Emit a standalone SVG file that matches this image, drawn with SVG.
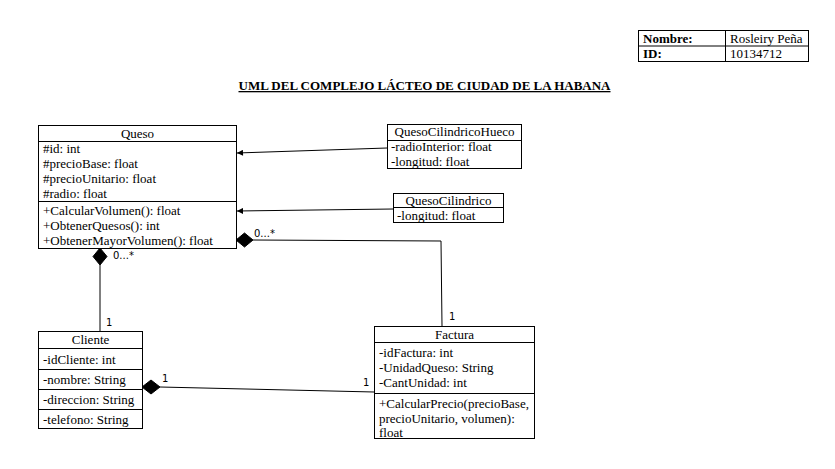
<svg xmlns="http://www.w3.org/2000/svg" width="835" height="469" viewBox="0 0 835 469">
<defs>
<style>
.box{fill:#fff;stroke:#000;stroke-width:1}
.ln{stroke:#000;stroke-width:1;fill:none}
.t{font-family:"Liberation Serif","Times New Roman",serif;font-size:13px;fill:#000}
.c{text-anchor:middle}
.b{font-weight:bold}
.lbl{font-family:"DejaVu Sans","Liberation Sans",sans-serif;font-size:10px;fill:#000}
.conn{stroke:#000;stroke-width:1;fill:none}
.dia{fill:#000;stroke:#000}
</style>
<marker id="arr" viewBox="0 0 10 10" refX="10" refY="5" markerWidth="8" markerHeight="6" orient="auto" markerUnits="userSpaceOnUse">
<path d="M0,0 L10,5 L0,10 z" fill="#000"/>
</marker>
</defs>
<rect width="835" height="469" fill="#fff"/>

<g id="header">
<rect class="box" x="638.5" y="30.5" width="170" height="31"/>
<line class="ln" x1="638.5" y1="46" x2="808.5" y2="46"/>
<line class="ln" x1="725.5" y1="30.5" x2="725.5" y2="61.5"/>
<text class="t b" x="643" y="42.5">Nombre:</text>
<text class="t" x="730" y="42.5">Rosleiry Peña</text>
<text class="t b" x="643" y="58">ID:</text>
<text class="t" x="730" y="58">10134712</text>
</g>

<g id="title">
<text class="t b" x="424.5" y="90" text-anchor="middle" style="text-decoration:underline">UML DEL COMPLEJO LÁCTEO DE CIUDAD DE LA HABANA</text>
</g>

<g id="connectors">
<line class="conn" x1="387" y1="148" x2="237" y2="153" marker-end="url(#arr)"/>
<line class="conn" x1="393" y1="209" x2="237" y2="211" marker-end="url(#arr)"/>
<polyline class="conn" points="253,240 441,241 442,326"/>
<path class="dia" d="M236,240 L244.5,233 L253,240 L244.5,247 z"/>
<line class="conn" x1="100" y1="265" x2="100" y2="331"/>
<path class="dia" d="M100,248 L107,256.5 L100,265 L93,256.5 z"/>
<line class="conn" x1="160" y1="387" x2="374" y2="392"/>
<path class="dia" d="M142,387 L151,380 L160,387 L151,394 z"/>
<text class="lbl" x="254" y="237">0...*</text>
<text class="lbl" x="449" y="320">1</text>
<text class="lbl" x="113" y="259">0...*</text>
<text class="lbl" x="106" y="326">1</text>
<text class="lbl" x="162" y="382">1</text>
<text class="lbl" x="363" y="386">1</text>
</g>

<g id="Queso">
<rect class="box" x="38.5" y="125.5" width="198" height="123"/>
<line class="ln" x1="38.5" y1="141.5" x2="236.5" y2="141.5"/>
<line class="ln" x1="38.5" y1="201.5" x2="236.5" y2="201.5"/>
<text class="t c" x="137.5" y="137.5">Queso</text>
<text class="t" x="43" y="152.5">#id: int</text>
<text class="t" x="43" y="167.5">#precioBase: float</text>
<text class="t" x="43" y="182.5">#precioUnitario: float</text>
<text class="t" x="43" y="197.5">#radio: float</text>
<text class="t" x="43" y="214.5">+CalcularVolumen(): float</text>
<text class="t" x="43" y="229.5">+ObtenerQuesos(): int</text>
<text class="t" x="43" y="244.5">+ObtenerMayorVolumen(): float</text>
</g>

<g id="QuesoCilindricoHueco">
<rect class="box" x="387.5" y="124.5" width="134" height="44"/>
<line class="ln" x1="387.5" y1="140.5" x2="521.5" y2="140.5"/>
<text class="t c" x="454.5" y="136">QuesoCilindricoHueco</text>
<text class="t" x="391" y="151">-radioInterior: float</text>
<text class="t" x="391" y="166">-longitud: float</text>
</g>

<g id="QuesoCilindrico">
<rect class="box" x="393.5" y="193.5" width="110" height="29"/>
<line class="ln" x1="393.5" y1="207.5" x2="503.5" y2="207.5"/>
<text class="t c" x="448.5" y="204.5">QuesoCilindrico</text>
<text class="t" x="397" y="219.5">-longitud: float</text>
</g>

<g id="Cliente">
<rect class="box" x="38.5" y="331.5" width="104" height="97"/>
<line class="ln" x1="38.5" y1="348.5" x2="142.5" y2="348.5"/>
<line class="ln" x1="38.5" y1="369.5" x2="142.5" y2="369.5"/>
<line class="ln" x1="38.5" y1="389.5" x2="142.5" y2="389.5"/>
<line class="ln" x1="38.5" y1="409.5" x2="142.5" y2="409.5"/>
<text class="t c" x="90.5" y="344">Cliente</text>
<text class="t" x="43" y="363.5">-idCliente: int</text>
<text class="t" x="43" y="383.5">-nombre: String</text>
<text class="t" x="43" y="403.5">-direccion: String</text>
<text class="t" x="43" y="423.5">-telefono: String</text>
</g>

<g id="Factura">
<rect class="box" x="374.5" y="326.5" width="160" height="112"/>
<line class="ln" x1="374.5" y1="342.5" x2="534.5" y2="342.5"/>
<line class="ln" x1="374.5" y1="393.5" x2="534.5" y2="393.5"/>
<text class="t c" x="454.5" y="338.5">Factura</text>
<text class="t" x="379" y="356.5">-idFactura: int</text>
<text class="t" x="379" y="371.5">-UnidadQueso: String</text>
<text class="t" x="379" y="386.5">-CantUnidad: int</text>
<text class="t" x="379" y="407.5">+CalcularPrecio(precioBase,</text>
<text class="t" x="379" y="422.5">precioUnitario, volumen):</text>
<text class="t" x="379" y="436.5">float</text>
</g>
</svg>
